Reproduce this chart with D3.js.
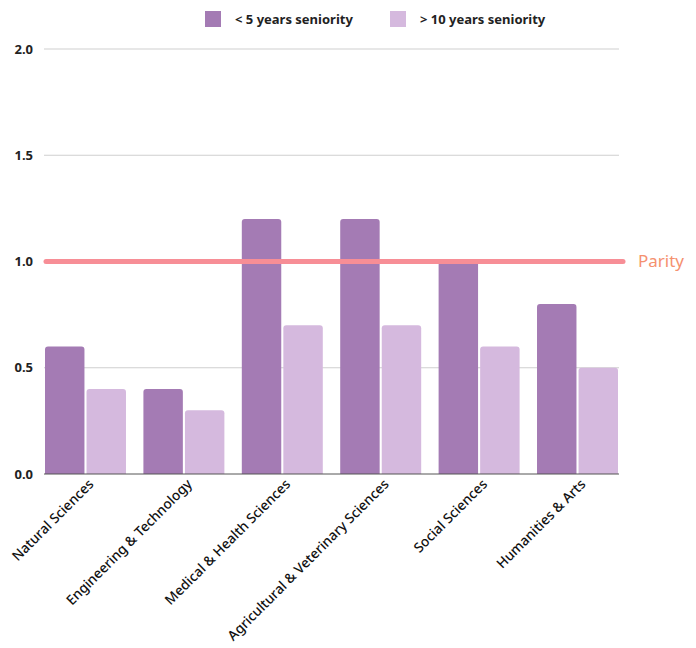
<!DOCTYPE html>
<html>
<head>
<meta charset="utf-8">
<script src="https://cdn.jsdelivr.net/npm/d3@7"></script>
<style>
  body { margin: 0; background: #fff; }
  text { font-family: "Noto Sans", sans-serif; }
</style>
</head>
<body>
<div id="chart"></div>
<script>
const categories = ["Natural Sciences", "Engineering & Technology", "Medical & Health Sciences",
  "Agricultural & Veterinary Sciences", "Social Sciences", "Humanities & Arts"];
const seriesNames = ["< 5 years seniority", "> 10 years seniority"];
const juniorValues = [0.6, 0.4, 1.2, 1.2, 1.0, 0.8];
const seniorValues = [0.4, 0.3, 0.7, 0.7, 0.6, 0.5];
const yTicks = [0, 0.5, 1.0, 1.5, 2.0];
const parity = 1.0;

const width = 696, height = 648;
const colors = ["#a47bb4", "#d5b9de"];

const svg = d3.select("#chart").append("svg")
  .attr("width", width)
  .attr("height", height);

const x = d3.scaleBand().domain(categories).range([45, 618]).paddingInner(0.177).paddingOuter(0);
const x1 = d3.scaleBand().domain([0, 1]).range([0, x.bandwidth()]).paddingInner(0.05);
const y = d3.scaleLinear().domain([0, 2]).range([474, 49]);

// gridlines
svg.append("g").selectAll("line")
  .data(yTicks.filter(d => d > 0))
  .enter().append("line")
  .attr("x1", 44).attr("x2", 619)
  .attr("y1", d => y(d)).attr("y2", d => y(d))
  .attr("stroke", "#cfcfcf").attr("stroke-width", 1);

// y labels
svg.append("g").selectAll("text")
  .data(yTicks)
  .enter().append("text")
  .attr("x", 33).attr("y", d => y(d))
  .attr("dy", "0.35em")
  .attr("text-anchor", "end")
  .attr("font-size", 13).attr("font-weight", 700)
  .attr("fill", "#222")
  .text(d => d.toFixed(1));

// bars with rounded top corners
function barPath(x0, w, yTop, yBase, r) {
  r = Math.min(r, (yBase - yTop));
  return `M${x0},${yBase}V${yTop + r}Q${x0},${yTop} ${x0 + r},${yTop}H${x0 + w - r}Q${x0 + w},${yTop} ${x0 + w},${yTop + r}V${yBase}Z`;
}

const series = [juniorValues, seniorValues];
series.forEach((vals, s) => {
  svg.append("g").selectAll("path")
    .data(vals)
    .enter().append("path")
    .attr("d", (d, i) => barPath(x(categories[i]) + x1(s), x1.bandwidth(), y(d), y(0), 3))
    .attr("fill", colors[s]);
});

// baseline
svg.append("line")
  .attr("x1", 44).attr("x2", 619)
  .attr("y1", y(0)).attr("y2", y(0))
  .attr("stroke", "#555").attr("stroke-width", 1);

// parity line
svg.append("line")
  .attr("x1", 46).attr("x2", 623)
  .attr("y1", y(parity)).attr("y2", y(parity))
  .attr("stroke", "#f78e96").attr("stroke-width", 5)
  .attr("stroke-linecap", "round");

svg.append("text")
  .attr("x", 638).attr("y", y(parity))
  .attr("dy", "0.35em")
  .attr("font-size", 17)
  .attr("fill", "#f5916f")
  .text("Parity");

// x labels
svg.append("g").selectAll("text")
  .data(categories)
  .enter().append("text")
  .attr("transform", d => `translate(${x(d) + x.bandwidth() / 2 + 9},${485}) rotate(-45)`)
  .attr("text-anchor", "end")
  .attr("font-size", 13.7).attr("font-weight", 500)
  .attr("fill", "#111")
  .text(d => d);

// legend
const legendX = [205, 390];
seriesNames.forEach((name, s) => {
  svg.append("rect")
    .attr("x", legendX[s]).attr("y", 11)
    .attr("width", 16).attr("height", 16)
    .attr("fill", colors[s]);
  svg.append("text")
    .attr("x", legendX[s] + 30).attr("y", 19)
    .attr("dy", "0.35em")
    .attr("font-size", 13).attr("font-weight", 700)
    .attr("fill", "#222")
    .text(name);
});
</script>
</body>
</html>
